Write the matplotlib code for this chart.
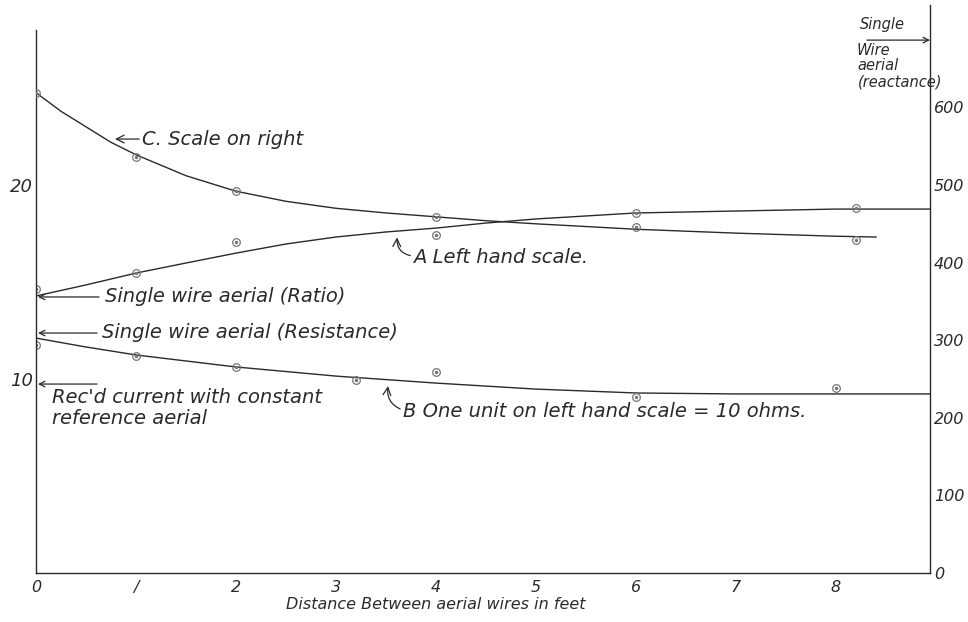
import matplotlib
matplotlib.use("Agg")
import matplotlib.pyplot as plt

# ---------------- data ----------------
# Curve A: single wire aerial ratio (left-hand scale)
a_pts_x = [0, 1, 2, 4, 6, 8.2]
a_pts_y = [14.64, 15.46, 17.06, 17.42, 18.56, 18.81]
a_curve_x = [0, 0.5, 1, 1.5, 2, 2.5, 3, 3.5, 4, 4.5, 5, 6, 7, 8, 8.94]
a_curve_y = [14.28, 14.85, 15.46, 15.98, 16.49, 16.96, 17.32, 17.58, 17.78,
             18.04, 18.25, 18.56, 18.66, 18.76, 18.76]

# Curve B: resistance (left-hand scale, one unit = 10 ohms)
b_pts_x = [0, 1, 2, 3.2, 4, 6, 8]
b_pts_y = [11.75, 11.19, 10.62, 9.95, 10.36, 9.07, 9.54]
b_curve_x = [0, 0.5, 1, 1.5, 2, 3, 4, 5, 6, 7, 8, 8.94]
b_curve_y = [12.11, 11.65, 11.24, 10.93, 10.62, 10.15, 9.79, 9.48, 9.28,
             9.23, 9.23, 9.23]

# Curve C: reactance (right-hand scale, ohms)
c_pts_x = [0, 1, 2, 4, 6, 8.2]
c_pts_y = [619, 536, 492, 459, 446, 429]
c_curve_x = [0, 0.25, 0.5, 0.75, 1, 1.5, 2, 2.5, 3, 3.5, 4, 4.5, 5, 6, 7, 8, 8.4]
c_curve_y = [619, 595, 575, 555, 539, 512, 492, 479, 470, 464, 459, 454, 450,
             443, 438, 434, 433]

x_ticks = [0, 1, 2, 3, 4, 5, 6, 7, 8]
x_tick_labels = ["0", "/", "2", "3", "4", "5", "6", "7", "8"]
left_ticks = [10, 20]
right_ticks = [0, 100, 200, 300, 400, 500, 600]

# ---------------- style ----------------
plt.rcParams['font.family'] = ['DejaVu Sans']
ink = "#2a2a2a"
pt_col = "#777777"
FS = 14          # annotation text
FS_TR = 10.5     # top-right label

fig = plt.figure(figsize=(9.68, 6.22), dpi=100)
ax = fig.add_axes([36 / 968, 49 / 622, 894 / 968, 568 / 622])
Y_TOP = 29.28
RATIO = 25.0
ax.set_xlim(0, 8.94)
ax.set_ylim(0, Y_TOP)

ax2 = ax.twinx()
ax2.set_ylim(0, Y_TOP * RATIO)

ax.spines["top"].set_visible(False)
ax2.spines["top"].set_visible(False)
ax2.spines["left"].set_visible(False)
ax2.spines["bottom"].set_visible(False)
ax.spines["right"].set_visible(False)
ax.spines["left"].set_bounds(0, 28)
for sp in [ax.spines["left"], ax.spines["bottom"], ax2.spines["right"]]:
    sp.set_color(ink)
    sp.set_linewidth(1.0)

ax.set_xticks(x_ticks)
ax.set_xticklabels(x_tick_labels, fontsize=11.5, style="italic", color=ink)
ax.tick_params(axis="x", length=0, pad=5)
ax.set_yticks(left_ticks)
ax.set_yticklabels([str(t) for t in left_ticks], fontsize=13, style="italic", color=ink)
ax.tick_params(axis="y", length=0, pad=2)
ax2.set_yticks(right_ticks)
ax2.set_yticklabels([str(t) for t in right_ticks], fontsize=11.5, style="italic", color=ink)
ax2.tick_params(axis="y", length=0, pad=3)

ax.set_xlabel("Distance Between aerial wires in feet", fontsize=11.5, style="italic",
              color=ink)
ax.xaxis.set_label_coords(4 / 8.94, -0.042)

# curves
ax.plot(a_curve_x, a_curve_y, color=ink, lw=1.0)
ax.plot(b_curve_x, b_curve_y, color=ink, lw=1.0)
ax2.plot(c_curve_x, c_curve_y, color=ink, lw=1.0)

# observed points (circled dots)
def pts(axis, xs, ys):
    axis.plot(xs, ys, ls="none", marker="o", ms=5.5, mfc="none", mec=pt_col, mew=0.9)
    axis.plot(xs, ys, ls="none", marker="o", ms=1.5, mfc=pt_col, mec=pt_col)

pts(ax, a_pts_x, a_pts_y)
pts(ax, b_pts_x, b_pts_y)
pts(ax2, c_pts_x, c_pts_y)

# annotations
arrow = dict(arrowstyle="->", color=ink, lw=0.9, shrinkA=0, shrinkB=0)
txt = dict(fontsize=FS, style="italic", color=ink, va="center", ha="left")
ax.annotate("C. Scale on right", xy=(0.79, 22.37), xytext=(1.06, 22.37),
            arrowprops=dict(arrow, relpos=(0, 0.5)), **txt)
ax.annotate("A Left hand scale.", xy=(3.61, 17.3), xytext=(3.77, 16.24),
            arrowprops=dict(arrow, relpos=(0, 0.6), connectionstyle="arc3,rad=-0.45"),
            **txt)
ax.text(0.69, 14.23, "Single wire aerial (Ratio)", **txt)
ax.annotate("", xy=(0.02, 14.23), xytext=(0.63, 14.23), arrowprops=arrow)
ax.text(0.66, 12.42, "Single wire aerial (Resistance)", **txt)
ax.annotate("", xy=(0.02, 12.37), xytext=(0.61, 12.37), arrowprops=arrow)
ax.text(0.16, 9.07, "Rec'd current with constant", **txt)
ax.text(0.16, 7.98, "reference aerial", **txt)
ax.annotate("", xy=(0.02, 9.74), xytext=(0.61, 9.74), arrowprops=arrow)
ax.annotate("B One unit on left hand scale = 10 ohms.", xy=(3.52, 9.64), xytext=(3.67, 8.30),
            arrowprops=dict(arrow, relpos=(0, 0.6), connectionstyle="arc3,rad=-0.4"),
            **txt)

# top-right label for reactance scale (positions in left-scale units)
tr = dict(fontsize=FS_TR, style="italic", color=ink, va="center", ha="left", clip_on=False)
ax.text(8.24, 28.25, "Single", **tr)
ax.annotate("", xy=(8.94, 27.47), xytext=(8.31, 27.47),
            arrowprops=dict(arrow), annotation_clip=False)
ax.text(8.21, 26.95, "Wire", **tr)
ax.text(8.21, 26.18, "aerial", **tr)
ax.text(8.22, 25.3, "(reactance)", zorder=5,
        bbox=dict(facecolor="white", edgecolor="none", pad=1), **tr)

fig.savefig("out.png", dpi=100, facecolor="white")
